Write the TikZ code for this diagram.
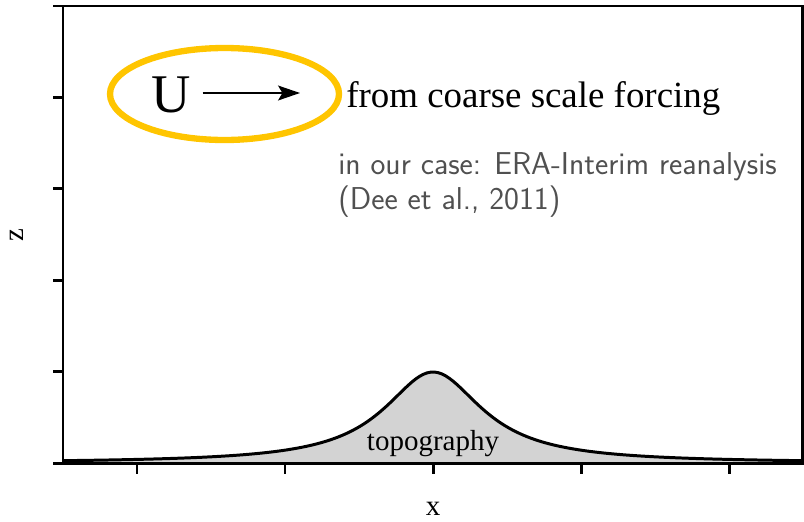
\documentclass[tikz,border=0pt]{standalone}
\usepackage{fontspec}
\setmainfont{Liberation Serif}
\usetikzlibrary{arrows.meta,positioning}
\definecolor{ringgold}{RGB}{255,197,0}
\definecolor{hillgrey}{RGB}{211,211,211}
\definecolor{notegrey}{RGB}{80,80,80}

\begin{document}
\begin{tikzpicture}[
    x=0.02cm, y=-0.02cm,
    axisline/.style={line width=1.7pt},
    axistick/.style={line width=1.7pt},
    axlabel/.style={font=\fontsize{16.5}{18}\selectfont, inner sep=0pt},
    arrow/.style={-{Stealth[length=12.5pt, width=8.5pt, inset=2.5pt]}, line width=0.8pt},
]
    \useasboundingbox (0,0) rectangle (804,521);

    \fill[hillgrey] plot[domain=63:802, samples=200] (\x, {463-91/(1+((\x-433)/60)^2)}) -- (802,463) -- (63,463) -- cycle;
    \draw[line width=1.7pt] plot[domain=63:802, samples=200] (\x, {463-91/(1+((\x-433)/60)^2)});

    \draw[axisline] (63,6) rectangle (802,463);
    \foreach \i in {0,...,5}
        \draw[axistick] (53, 463-91.4*\i) -- (63, 463-91.4*\i);
    \foreach \i in {0,...,4}
        \draw[axistick] (137+148*\i, 463) -- (137+148*\i, 474);

    \node[axlabel, rotate=90] (zlab) at (17,235) {z};
    \node[axlabel] (xlab) at (433,509) {x};
    \node[axlabel, anchor=base] (hill) at (433,450) {topography};

    \draw[ringgold, line width=3.6pt] (224.5,94) ellipse [x radius=114.5, y radius=46];
    \node[font=\fontsize{31}{34}\selectfont, inner sep=0pt, anchor=base] (uvel) at (171.5,112) {U};
    \coordinate (uend) at (300,93);
    \draw[arrow, shorten <=11pt*0.569] (uvel.east |- uend) -- (uend);

    \node[font=\fontsize{21}{24}\selectfont, inner sep=0pt, anchor=base west] (forcing) at (346,107) {from coarse scale forcing};
    \node[font=\sffamily\fontsize{18}{20}\selectfont, text=notegrey, inner sep=0pt, anchor=north west, align=left] (source) at (338,152)
        {in our case: ERA-Interim reanalysis\\(Dee et al., 2011)};
\end{tikzpicture}
\end{document}
